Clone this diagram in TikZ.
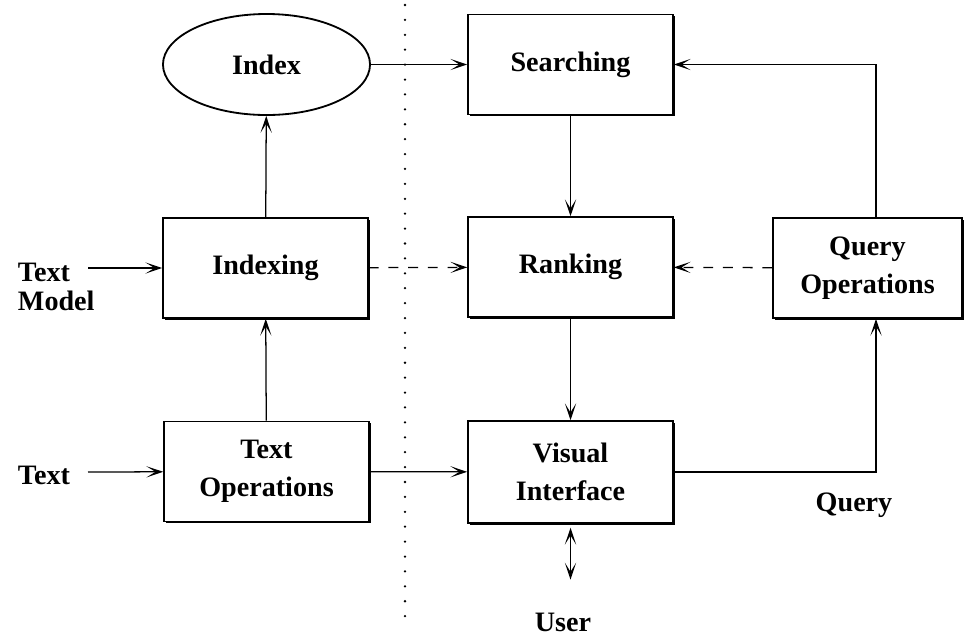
\documentclass[tikz,border=0pt]{standalone}
\usepackage{fontspec}
\setmainfont{Liberation Serif}
\usetikzlibrary{arrows.meta,shapes.geometric,shadows}

\begin{document}
\begin{tikzpicture}[x=0.025cm,y=-0.025cm,
  every node/.style={font=\bfseries\fontsize{20}{27}\selectfont,align=center},
  box/.style={draw,line width=1.1pt,fill=white,minimum width=5.125cm,minimum height=2.5cm,
    drop shadow={shadow xshift=1.2pt,shadow yshift=-1.2pt,fill=black,opacity=1}},
  link/.style={line width=0.9pt,-{Stealth[length=12pt,width=8pt,inset=6.5pt]}},
  duallink/.style={line width=0.9pt,{Stealth[length=12pt,width=8pt,inset=6.5pt]}-{Stealth[length=12pt,width=8pt,inset=6.5pt]}},
  dashlink/.style={link,dash pattern=on 7pt off 7pt}]
\useasboundingbox (0,0) rectangle (966,641);
\node[draw,ellipse,line width=1.3pt,minimum width=5.175cm,minimum height=2.525cm,inner sep=0pt] (index) at (266.5,64.5) {Index};
\node[box] (srch) at (570.5,64.5) {Searching};
%-------------
\node[box] (idxg) at (265.5,268) {Indexing};
\node[box] (rank) at (570.5,267) {Ranking};
\node[box,minimum width=4.725cm] (qops) at (867.5,268) {Query\\Operations};
%-------------
\node[box] (tops) at (266.5,471.5) {Text\\Operations};
\node[box,minimum height=2.55cm] (vis) at (570.5,472) {Visual\\Interface};
%-------------
\node[anchor=west,align=left,font=\bfseries\fontsize{20}{21}\selectfont] (tmodel) at (13,287) {Text\\Model};
\node[anchor=west] (txt) at (13,475) {Text};
\node (qry) at (854,505) {Query};
\node (usr) at (563,622) {User};
\coordinate (tmin) at (88,268);
\coordinate (tin) at (88,472);
\coordinate (fb) at (876,0);
\coordinate (sepa) at (405,5);
\coordinate (sepb) at (405,625);
%-------------
\foreach \from/\to in {index/srch,idxg/index,tops/idxg,tmin/idxg,tin/tops,
srch/rank,rank/vis,tops/vis}
\draw[link] (\from) -- (\to);
\foreach \from/\to in {idxg/rank,qops/rank}
\draw[dashlink] (\from) -- (\to);
\draw[link] (vis) -- (vis -| fb) -- (qops.south -| fb);
\draw[link] (qops.north -| fb) -- (srch -| fb) -- (srch);
\draw[duallink,shorten <=2.8pt,shorten >=20pt] (vis.south) -- (vis.south |- usr.north);
\draw[line width=1.8pt,line cap=round,dash pattern=on 0pt off 10.6pt] (sepa) -- (sepb);
\end{tikzpicture}
\end{document}
